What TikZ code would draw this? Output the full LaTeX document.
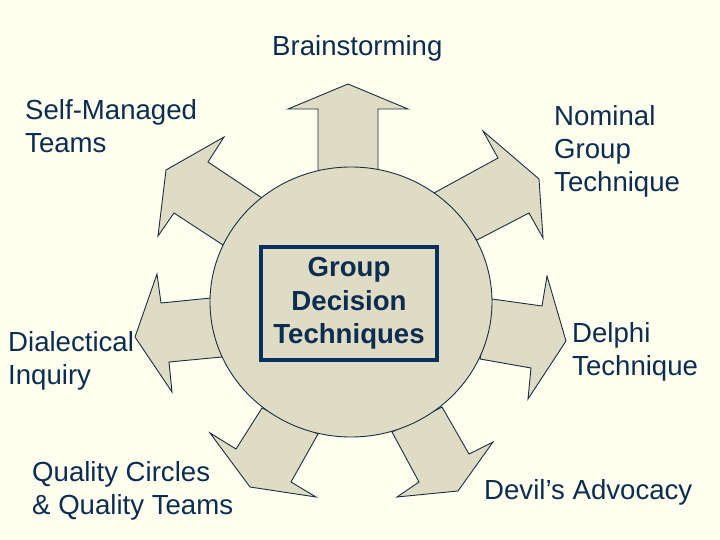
\documentclass[tikz,border=0pt]{standalone}
\usepackage{fontspec}
\setmainfont{Liberation Sans}
\usetikzlibrary{shapes.geometric}
\definecolor{bgcol}{HTML}{FFFFEF}
\definecolor{shapefill}{HTML}{DFDCC5}
\definecolor{linecol}{HTML}{1A2E40}
\definecolor{txtcol}{HTML}{0C2D50}
\definecolor{boxcol}{HTML}{0A3060}
\begin{document}
\begin{tikzpicture}[x=1pt,y=-1pt,
  arrowshape/.style={fill=shapefill, draw=linecol, line width=0.9pt, line join=miter},
  lbl/.style={font=\fontsize{27.6}{33}\selectfont, text=txtcol, inner sep=0pt, align=left, anchor=base west},
  corebox/.style={draw=boxcol, line width=4pt, fill=shapefill, minimum width=176pt, minimum height=113pt,
    align=center, text=txtcol, font=\fontsize{27.6}{33.5}\selectfont\bfseries, inner sep=0pt},
  hubshape/.style={ellipse, draw=linecol, line width=0.9pt, fill=shapefill, minimum width=282pt, minimum height=270pt, inner sep=0pt}
]
\fill[bgcol] (0,0) rectangle (720,540);
\useasboundingbox (0,0) rectangle (720,540);

% arrows
\draw[arrowshape] (318,200) -- (318,109) -- (288,109) -- (348,84) -- (408,109) -- (378,109) -- (378,200) -- cycle;
\draw[arrowshape] (262,198) -- (208,162) -- (224,137) -- (166,170) -- (158,236) -- (174,213) -- (223,245) -- cycle;
\draw[arrowshape] (434,193) -- (498,158) -- (483,131) -- (539,179) -- (543,238) -- (529,213) -- (477,240) -- cycle;
\draw[arrowshape] (211,298) -- (161,303) -- (157,274) -- (135,337) -- (172,392) -- (169,362) -- (222,357) -- cycle;
\draw[arrowshape] (492,299) -- (542,306) -- (547,276) -- (566,341) -- (528,399) -- (531,368) -- (480,359) -- cycle;
\draw[arrowshape] (442,407) -- (469,454) -- (493,442) -- (458,491) -- (397,497) -- (419,482) -- (392,432) -- cycle;
\draw[arrowshape] (262,408) -- (236,449) -- (210,433) -- (250,487) -- (316,497) -- (291,482) -- (318,434) -- cycle;

% hub
\node[hubshape] (hub) at (351,302) {};
\node[corebox] (core) at (349,303.5) {Group\\Decision\\Techniques};

% labels (anchor = baseline of last line)
\node[lbl] (brain) at (272,56) {Brainstorming};
\node[lbl] (selfm) at (25,153) {Self-Managed\\Teams};
\node[lbl] (nominal) at (554,192) {Nominal\\Group\\Technique};
\node[lbl] (dialec) at (8,384) {Dialectical\\Inquiry};
\node[lbl] (delphi) at (572,375) {Delphi\\Technique};
\node[lbl] (quality) at (32,514) {Quality Circles\\\& Quality Teams};
\node[lbl] (devil) at (484,499) {Devil’s Advocacy};
\end{tikzpicture}
\end{document}
